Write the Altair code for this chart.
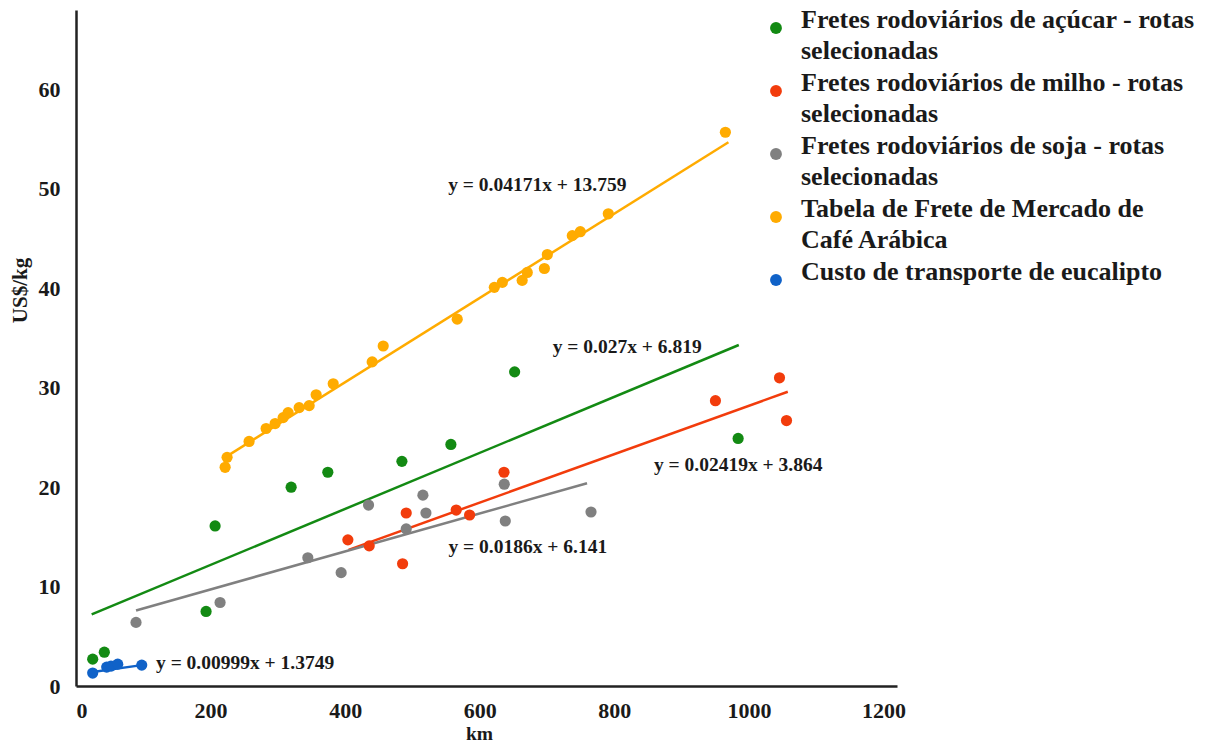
import altair as alt
import pandas as pd

SERIES = [
    "Fretes rodoviários de açúcar - rotas|selecionadas",
    "Fretes rodoviários de milho - rotas|selecionadas",
    "Fretes rodoviários de soja - rotas|selecionadas",
    "Tabela de Frete de Mercado de|Café Arábica",
    "Custo de transporte de eucalipto",
]
COLORS = ["#138a13", "#f23c0c", "#808080", "#ffab00", "#1062c8"]

# Açúcar
acucar_x = [24.8, 42.1, 193.3, 206.7, 319.7, 374.2, 484.3, 557.1, 651.8, 983.9]
acucar_y = [2.7, 3.4, 7.5, 16.1, 20.0, 21.5, 22.6, 24.3, 31.6, 24.9]
# Milho
milho_x = [404.0, 435.7, 485.3, 490.7, 565.0, 584.9, 636.0, 950.2, 1045.4, 1055.8]
milho_y = [14.7, 14.1, 12.3, 17.4, 17.7, 17.2, 21.5, 28.7, 31.0, 26.7]
# Soja
soja_x = [89.2, 214.1, 344.5, 394.0, 434.7, 490.7, 515.5, 520.0, 636.4, 637.9, 765.3]
soja_y = [6.4, 8.4, 12.9, 11.4, 18.2, 15.8, 19.2, 17.4, 20.3, 16.6, 17.5]
# Café
cafe_x = [221.6, 224.5, 257.2, 282.5, 295.9, 307.8, 315.2, 331.6, 346.5, 356.9, 382.2,
          440.1, 456.5, 566.5, 621.6, 633.5, 663.0, 670.6, 696.0, 700.4, 737.5, 749.4,
          791.0, 965.0]
cafe_y = [22.0, 23.0, 24.6, 25.9, 26.4, 27.0, 27.5, 28.0, 28.2, 29.3, 30.4,
          32.6, 34.2, 36.9, 40.1, 40.6, 40.8, 41.6, 42.0, 43.4, 45.3, 45.7,
          47.5, 55.7]
# Eucalipto
euc_x = [24.8, 45.6, 52.0, 62.0, 97.7]
euc_y = [1.3, 1.9, 2.0, 2.2, 2.1]

# Trend line endpoints
trend_x0 = [23.3, 405.0, 89.2, 221.6, 24.8]
trend_y0 = [7.2, 13.7, 7.6, 23.0, 1.4]
trend_x1 = [984.9, 1057.7, 759.4, 969.5, 97.7]
trend_y1 = [34.3, 29.6, 20.4, 54.7, 2.1]

# Equation labels
eq_text = ["y = 0.027x + 6.819", "y = 0.02419x + 3.864", "y = 0.0186x + 6.141",
           "y = 0.04171x + 13.759", "y = 0.00999x + 1.3749"]
eq_x = [819.0, 984.0, 671.4, 685.5, 251.3]
eq_y = [34.1, 22.2, 14.0, 50.4, 2.34]

pts = pd.concat([
    pd.DataFrame({"km": xs, "v": ys, "s": SERIES[i]})
    for i, (xs, ys) in enumerate([(acucar_x, acucar_y), (milho_x, milho_y), (soja_x, soja_y),
                                   (cafe_x, cafe_y), (euc_x, euc_y)])
], ignore_index=True)

lines = pd.DataFrame({
    "km": trend_x0 + trend_x1,
    "v": trend_y0 + trend_y1,
    "s": SERIES + SERIES,
})

eqs = pd.DataFrame({"km": eq_x, "v": eq_y, "t": eq_text})

FONT = "Liberation Serif"

xs = alt.Scale(domain=[0, 1220], nice=False, zero=True)
ys = alt.Scale(domain=[0, 68], nice=False, zero=True)
cs = alt.Scale(domain=SERIES, range=COLORS)

x_axis = alt.Axis(values=[0, 200, 400, 600, 800, 1000, 1200], format="d", title="km", grid=False,
                  ticks=False, labelPadding=14, titleX=403, titleY=47, titleBaseline="middle",
                  titleFontSize=19.5)
y_axis = alt.Axis(values=[0, 10, 20, 30, 40, 50, 60], format="d", title="US$/kg", grid=False,
                  ticks=False, labelPadding=16, titleX=-56, titleY=280, titleBaseline="middle",
                  titleAlign="center")

legend = alt.Legend(
    title=None, orient="none", legendX=687, legendY=5, padding=0,
    labelExpr="split(datum.label, '|')",
    symbolType="circle", symbolSize=140, symbolStrokeWidth=0, symbolOpacity=1,
    labelFont=FONT, labelFontSize=26, labelFontWeight="bold", labelColor="#1a1a1a",
    labelLimit=0, labelOffset=12, rowPadding=6,
    labelBaseline="alphabetic",
)

trend = alt.Chart(lines).mark_line(strokeWidth=2.5).encode(
    x=alt.X("km:Q", scale=xs, axis=x_axis),
    y=alt.Y("v:Q", scale=ys, axis=y_axis),
    color=alt.Color("s:N", scale=cs, sort=SERIES, legend=legend),
    detail="s:N",
)

points = alt.Chart(pts).mark_circle(size=125, opacity=1).encode(
    x=alt.X("km:Q", scale=xs, axis=x_axis),
    y=alt.Y("v:Q", scale=ys, axis=y_axis),
    color=alt.Color("s:N", scale=cs, sort=SERIES, legend=legend),
)

labels = alt.Chart(eqs).mark_text(font=FONT, fontSize=19.5, fontWeight="bold", color="#1a1a1a").encode(
    x=alt.X("km:Q", scale=xs),
    y=alt.Y("v:Q", scale=ys),
    text="t:N",
)

chart = alt.layer(trend, points, labels).properties(
    width=821, height=676,
    autosize=alt.AutoSizeParams(type="none"),
    padding={"left": 68, "top": 2, "right": 306, "bottom": 57},
).configure(
    style={"guide-label": {"lineHeight": 31}},
).configure_view(stroke=None).configure_axis(
    domainColor="#222222", domainWidth=2.5,
    labelFont=FONT, labelFontSize=22, labelFontWeight="bold", labelColor="#1a1a1a",
    titleFont=FONT, titleFontSize=21, titleFontWeight="bold", titleColor="#1a1a1a",
)

chart.save("out.html", embed_options={"renderer": "svg", "actions": False})
